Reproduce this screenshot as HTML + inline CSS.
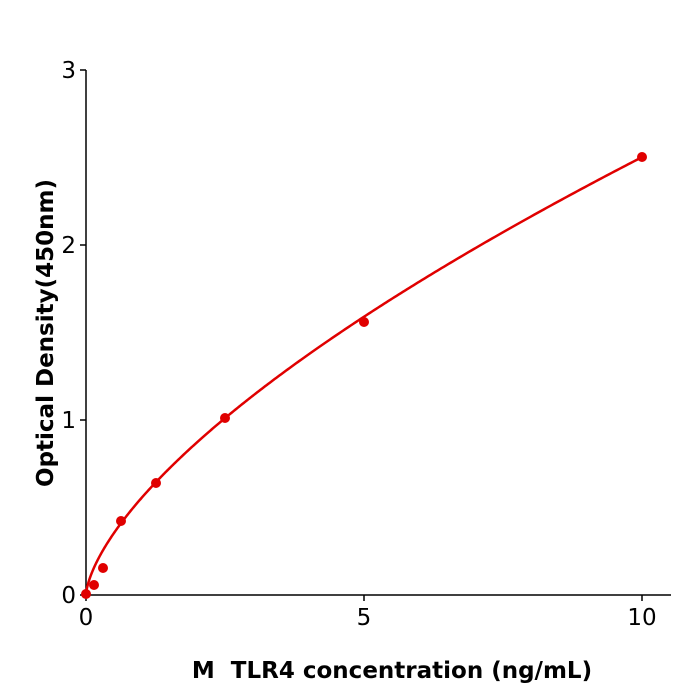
<!DOCTYPE html>
<html><head><meta charset="utf-8"><style>
html,body{margin:0;padding:0;background:#fff}
svg{display:block}
text{font-family:"DejaVu Sans","Liberation Sans",sans-serif;fill:#000}
</style></head><body>
<svg id="s" width="700" height="700" viewBox="0 0 700 700">
<g stroke="#000" stroke-width="1.5" fill="none">
<line x1="86" y1="70" x2="86" y2="596"/>
<line x1="85" y1="595" x2="671" y2="595"/>
<line x1="80" y1="595" x2="86" y2="595"/>
<line x1="80" y1="420" x2="86" y2="420"/>
<line x1="80" y1="245" x2="86" y2="245"/>
<line x1="80" y1="70" x2="86" y2="70"/>
<line x1="86" y1="595" x2="86" y2="601"/>
<line x1="364" y1="595" x2="364" y2="601"/>
<line x1="642" y1="595" x2="642" y2="601"/>
</g>
<g font-size="23" text-anchor="end">
<text x="76" y="603">0</text>
<text x="76" y="428">1</text>
<text x="76" y="253">2</text>
<text x="76" y="78">3</text>
</g>
<g font-size="23" text-anchor="middle">
<text x="86" y="625">0</text>
<text x="364" y="625">5</text>
<text x="642" y="625">10</text>
</g>
<text x="392" y="678" font-size="23" font-weight="bold" text-anchor="middle">M&#160; TLR4 concentration (ng/mL)</text>
<text transform="translate(53,333) rotate(-90)" font-size="23" font-weight="bold" text-anchor="middle">Optical Density(450nm)</text>
<path id="c" d="" stroke="#e00000" stroke-width="2.5" fill="none"/>
<g fill="#e00000">
<circle cx="86" cy="594" r="5"/>
<circle cx="94" cy="585" r="5"/>
<circle cx="103" cy="568" r="5"/>
<circle cx="121" cy="521" r="5"/>
<circle cx="156" cy="483" r="5"/>
<circle cx="225" cy="418" r="5"/>
<circle cx="364" cy="322" r="5"/>
<circle cx="642" cy="157" r="5"/>
</g>
</svg>
<script>
var d="";for(var i=0;i<=400;i++){var x=10*Math.pow(i/400,2);var y=0.555*Math.pow(x,0.654);var px=86+55.6*x,py=595-175*y;d+=(i?"L":"M")+px.toFixed(2)+" "+py.toFixed(2);}
document.getElementById("c").setAttribute("d",d);
</script>
</body></html>
